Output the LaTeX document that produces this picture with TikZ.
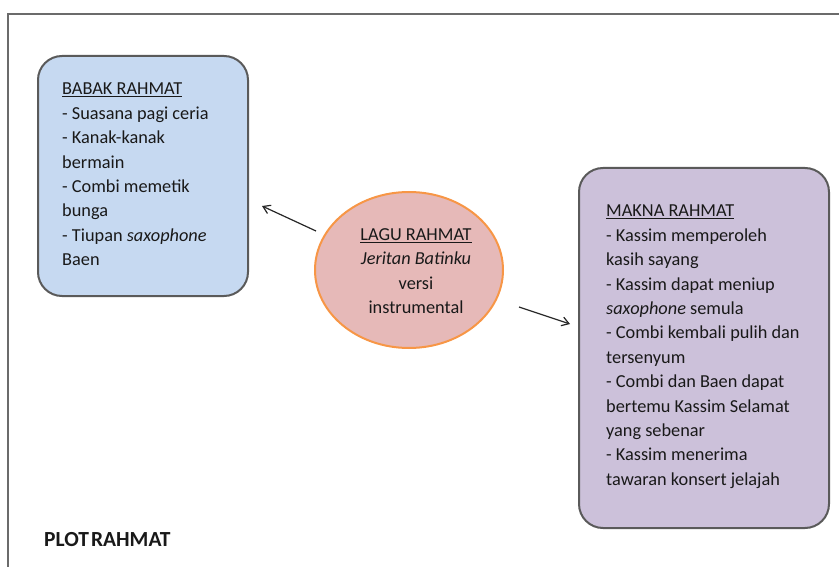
\documentclass[tikz,border=0pt]{standalone}
\usepackage{fontspec}
\setmainfont{Carlito}
\usetikzlibrary{shapes.geometric,arrows.meta}
\definecolor{boxblue}{HTML}{C6D9F1}
\definecolor{boxlilac}{HTML}{CCC1DA}
\definecolor{ovalpink}{HTML}{E6B9B8}
\definecolor{ovaledge}{HTML}{F79646}
\definecolor{edgegray}{HTML}{5A5A5A}
\tikzset{
  x=1pt, y=-1pt,
  panel/.style={draw=edgegray, line width=2pt, rounded corners=24pt, anchor=north west, inner sep=0pt},
  bodyfont/.style={font=\fontsize{18.3}{24.4}\selectfont},
  paneltext/.style={anchor=north west, align=left, inner sep=0pt, bodyfont, text=black!90},
  oval/.style={ellipse, draw=ovaledge, line width=2pt, fill=ovalpink, inner sep=0pt},
  link/.style={-{Straight Barb[length=7pt,width=9pt]}, line width=1.2pt, black!85},
}
\begin{document}
\begin{tikzpicture}
\useasboundingbox (0,0) rectangle (839,567);
% page frame, running off the right and bottom edges
\draw[edgegray!90, line width=2pt] (8,580) -- (8,14) -- (850,14);

% left panel
\node[panel, fill=boxblue, minimum width=210pt, minimum height=240pt] (babak) at (37,55) {};
\node[paneltext] (babaktxt) at (62,83) {\underline{BABAK RAHMAT}\\
- Suasana pagi ceria\\
- Kanak-kanak\\
bermain\\
- Combi memetik\\
bunga\\
- Tiupan \textit{saxophone}\\
Baen};

% right panel
\node[panel, fill=boxlilac, minimum width=250pt, minimum height=360pt] (makna) at (578,167) {};
\node[paneltext] (maknatxt) at (606,205) {\underline{MAKNA RAHMAT}\\
- Kassim memperoleh\\
kasih sayang\\
- Kassim dapat meniup\\
\textit{saxophone} semula\\
- Combi kembali pulih dan\\
tersenyum\\
- Combi dan Baen dapat\\
bertemu Kassim Selamat\\
yang sebenar\\
- Kassim menerima\\
tawaran konsert jelajah};

% central oval
\node[oval, minimum width=188pt, minimum height=156pt] (lagu) at (409,270) {};
\node[align=center, inner sep=0pt, bodyfont, text=black!90] (lagutxt) at (416,271) {\underline{LAGU RAHMAT}\\
\textit{Jeritan Batinku}\\
versi\\
instrumental};

% arrows from the oval towards both panels
\coordinate (lstart) at (316,231);
\coordinate (lend) at (262,206);
\coordinate (rstart) at (519,307);
\coordinate (rend) at (570,324);
\draw[link] (lstart) -- (lend);
\draw[link] (rstart) -- (rend);

\node[anchor=west, inner sep=0pt, font=\fontsize{21.5}{24}\selectfont\bfseries, text=black!90] (title) at (44,540) {PLOT\hspace{2pt}RAHMAT};
\end{tikzpicture}
\end{document}
